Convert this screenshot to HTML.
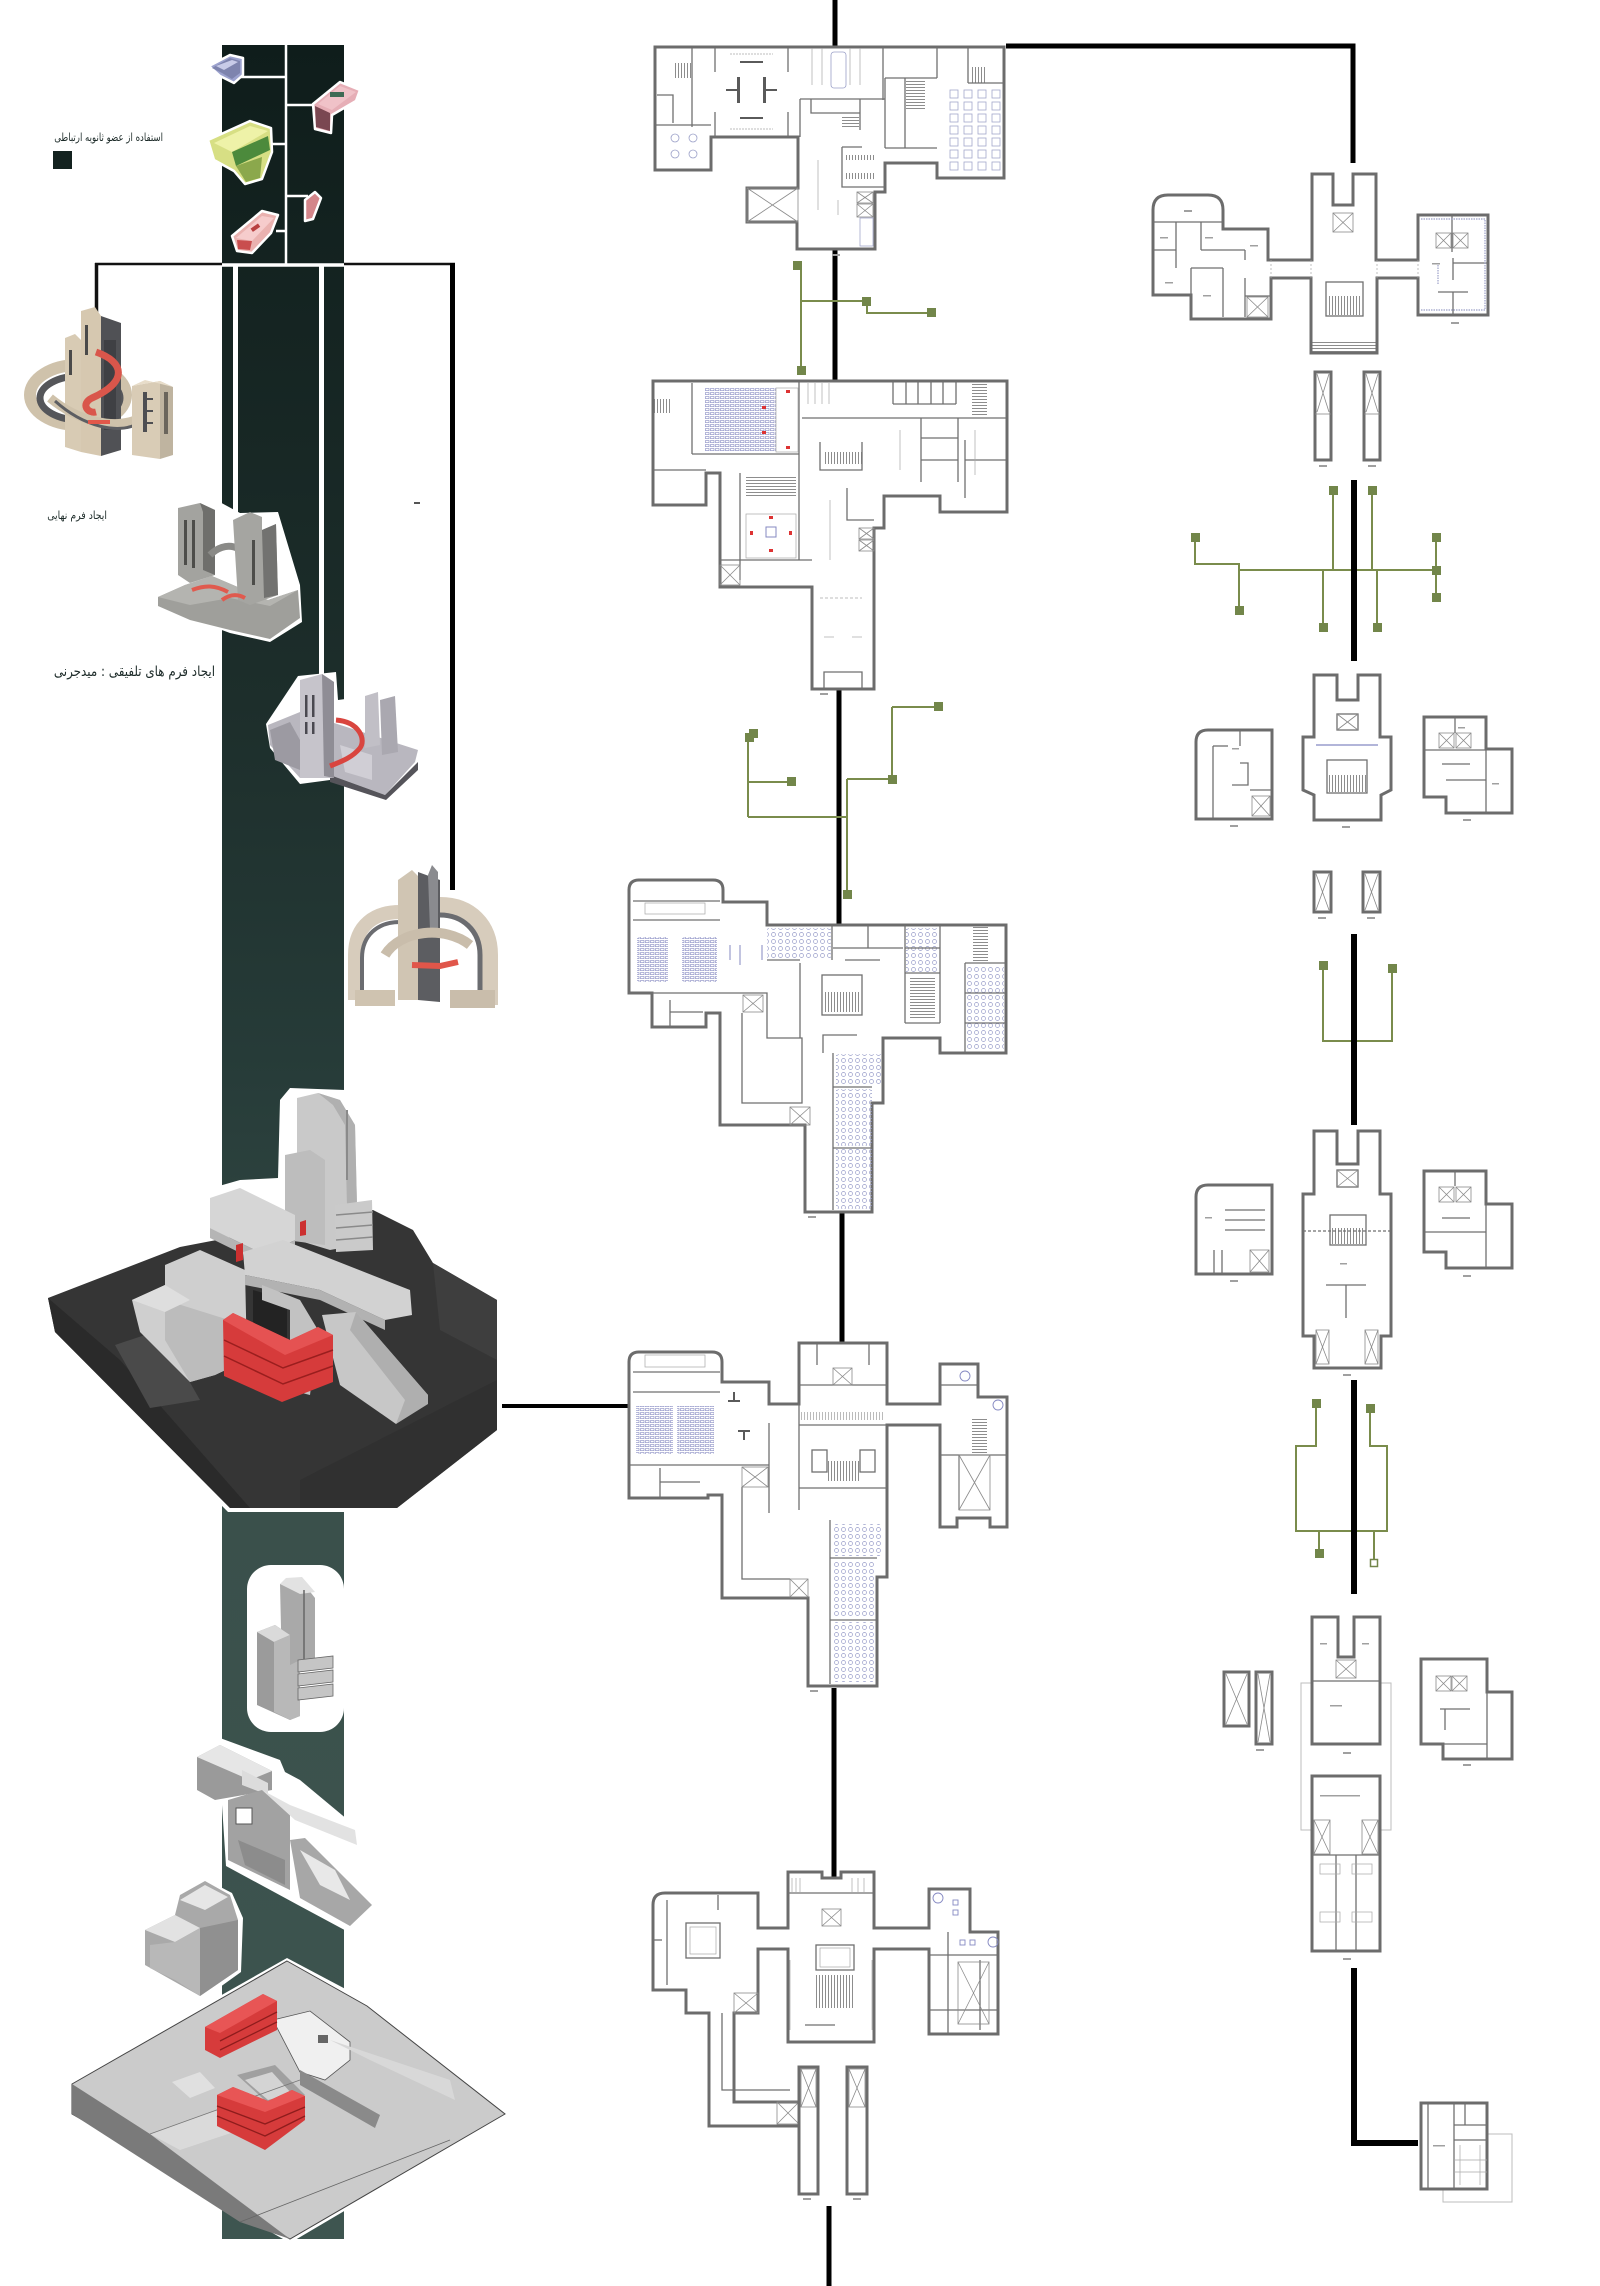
<!DOCTYPE html>
<html><head><meta charset="utf-8">
<style>
html,body{margin:0;padding:0;background:#fff;}
#wrap{position:relative;width:1600px;height:2286px;overflow:hidden;background:#fff;}
svg{position:absolute;left:0;top:0;}
.fa{position:absolute;font-family:"DejaVu Sans","Liberation Sans",sans-serif;color:#1d2b29;white-space:nowrap;direction:rtl;text-align:right;transform-origin:100% 50%;}
</style></head>
<body><div id="wrap">
<svg width="1600" height="2286" viewBox="0 0 1600 2286" xmlns="http://www.w3.org/2000/svg">
<defs>
<linearGradient id="band" gradientUnits="userSpaceOnUse" x1="0" y1="45" x2="0" y2="2239">
<stop offset="0" stop-color="#0f1d1b"/><stop offset="0.3" stop-color="#1d2e2b"/><stop offset="0.46" stop-color="#263b38"/><stop offset="0.67" stop-color="#3a504b"/><stop offset="1" stop-color="#3e5550"/>
</linearGradient>
<pattern id="st" width="3" height="10" patternUnits="userSpaceOnUse"><line x1="0.5" y1="0" x2="0.5" y2="10" stroke="#707070" stroke-width="0.8"/></pattern>
<pattern id="sth" width="10" height="3" patternUnits="userSpaceOnUse"><line x1="0" y1="0.5" x2="10" y2="0.5" stroke="#707070" stroke-width="0.8"/></pattern>
<pattern id="seat" width="5" height="4" patternUnits="userSpaceOnUse"><rect x="0.5" y="0.5" width="3.5" height="2.2" fill="none" stroke="#8589c2" stroke-width="0.6"/></pattern>
<pattern id="ch" width="7" height="7" patternUnits="userSpaceOnUse"><circle cx="3.5" cy="3.5" r="2" fill="none" stroke="#969bc8" stroke-width="0.7"/></pattern>
<style>
.o{fill:#fff;stroke:#6c6c6c;stroke-width:3;stroke-linejoin:miter}
.l{fill:none;stroke:#6f6f6f;stroke-width:1.3}
.t{fill:none;stroke:#a8a8a8;stroke-width:0.7}
.x{fill:none;stroke:#8a8a8a;stroke-width:0.8}
.g{fill:none;stroke:#7a8c4c;stroke-width:2}
.gs{fill:#72864a}
.k{stroke:#000;fill:none}
.wh{fill:#fff}
.lb{fill:#a0a0a0}
</style>
</defs>

<!-- ================= LEFT CONNECTOR LINES ================= -->
<line x1="95" y1="264" x2="455" y2="264" stroke="#111" stroke-width="2.5"/>
<line x1="96.5" y1="263" x2="96.5" y2="312" stroke="#111" stroke-width="3.5"/>
<line x1="452.5" y1="263" x2="452.5" y2="890" stroke="#000" stroke-width="5"/>
<rect x="414" y="502" width="6" height="2" fill="#555"/>

<!-- band -->
<rect x="222" y="45" width="122" height="2194" fill="url(#band)"/>
<g stroke="#fff" stroke-width="2.5">
<line x1="286" y1="45" x2="286" y2="264"/>
<line x1="238" y1="77" x2="286" y2="77"/>
<line x1="286" y1="105" x2="314" y2="105"/>
<line x1="268" y1="144" x2="286" y2="144"/>
<line x1="286" y1="196" x2="308" y2="196"/>
<line x1="276" y1="231" x2="286" y2="231"/>
</g>
<line x1="222" y1="265" x2="344" y2="265" stroke="#fff" stroke-width="3.5"/>
<line x1="235.5" y1="266" x2="235.5" y2="512" stroke="#fff" stroke-width="5"/>
<line x1="321.5" y1="266" x2="321.5" y2="676" stroke="#fff" stroke-width="5"/>

<rect x="53" y="151" width="19" height="18" fill="#13221f"/>

<!-- ================= TOP SMALL OBJECTS ================= -->
<g stroke="#fff" stroke-width="2.5" stroke-linejoin="round">
<polygon points="209,66 230,55 243,58 243,75 234,83 220,76" fill="#9da3cf"/>
<polygon points="313,104 340,82 360,90 356,101 332,115 331,133 315,129" fill="#e6aeb6"/>
<polygon points="208,140 250,121 271,128 272,152 262,179 245,184 234,171 214,160" fill="#d7df84"/>
<polygon points="305,200 315,192 321,198 313,219 305,221" fill="#d4868a"/>
<polygon points="232,236 262,211 278,215 271,233 252,253 237,251" fill="#eab2b0"/>
</g>
<polygon points="212,68 230,58 240,61 240,73 232,79 222,73" fill="#7e84ae"/>
<polygon points="216,66 232,60 238,62 224,70" fill="#c8cbe8"/>
<polygon points="315,106 330,113 330,131 316,127" fill="#7a4751"/>
<polygon points="318,104 340,86 356,92 332,110" fill="#f0c2c8"/>
<rect x="330" y="92" width="14" height="5" fill="#3f6b55"/>
<polygon points="214,143 250,126 268,131 232,152" fill="#eef2a8"/>
<polygon points="232,152 268,136 270,150 236,166" fill="#4c8a3c"/>
<polygon points="236,166 262,157 260,178 246,182" fill="#8ba84c"/>
<polygon points="236,238 262,216 274,218 252,241" fill="#f6cccc"/>
<polygon points="237,240 252,241 250,250 238,249" fill="#c94e4e"/>
<rect x="251" y="226" width="9" height="4" fill="#b84040" transform="rotate(-35 255 228)"/>

<!-- ================= OBJECT A ================= -->
<g>
<ellipse cx="78" cy="395" rx="48" ry="30" fill="none" stroke="#cfc2ab" stroke-width="12"/>
<ellipse cx="80" cy="398" rx="40" ry="22" fill="none" stroke="#55565a" stroke-width="7"/>
<polygon points="65,338 75,334 81,340 81,452 65,447" fill="#d8cbb4"/>
<polygon points="81,311 95,307 101,316 101,456 81,452" fill="#d6c8b0"/>
<polygon points="101,316 121,323 121,450 101,456" fill="#505155"/>
<rect x="85" y="325" width="3" height="30" fill="#4a4a4a"/>
<rect x="69" y="350" width="3" height="25" fill="#4a4a4a"/>
<rect x="104" y="340" width="12" height="90" fill="#3f4044"/>
<path d="M96 352 C125 362 128 382 92 398 C80 404 88 414 96 412" fill="none" stroke="#d9564b" stroke-width="7"/>
<path d="M50 398 C80 423 115 428 135 420" fill="none" stroke="#cfc2ab" stroke-width="9"/>
<path d="M55 401 C85 428 118 433 135 425" fill="none" stroke="#5d5e62" stroke-width="3"/>
<rect x="88" y="420" width="22" height="4" fill="#e2584a"/>
<polygon points="132,386 160,381 160,459 132,455" fill="#d9ccb6"/>
<polygon points="160,381 173,387 173,455 160,459" fill="#bfb4a0"/>
<polygon points="132,386 145,380 173,387 160,381" fill="#e8ddca"/>
<rect x="143" y="392" width="4" height="40" fill="#4e4e52"/>
<rect x="147" y="398" width="6" height="2" fill="#4e4e52"/><rect x="147" y="410" width="6" height="2" fill="#4e4e52"/><rect x="147" y="422" width="6" height="2" fill="#4e4e52"/>
<rect x="164" y="392" width="4" height="42" fill="#6a655c"/>
</g>

<!-- ================= OBJECT B ================= -->
<polygon points="176,504 216,500 240,513 278,512 300,585 302,622 270,642 230,633 156,606 157,590 175,580" fill="#fff"/>
<polygon points="158,597 185,585 212,576 268,600 298,590 300,618 270,639 230,630 190,620 158,606" fill="#9f9f9b"/>
<polygon points="158,597 185,585 212,576 268,600 298,590 270,606 230,598 190,605" fill="#b4b4b0"/>
<polygon points="178,508 200,503 215,510 215,575 190,583 178,575" fill="#a3a39f"/>
<polygon points="200,503 215,510 215,575 203,570 203,512" fill="#6f6f6c"/>
<rect x="184" y="520" width="3" height="45" fill="#4d4d4a"/>
<rect x="192" y="520" width="3" height="48" fill="#4d4d4a"/>
<path d="M210 555 C225 540 245 545 250 565" fill="none" stroke="#8a8a87" stroke-width="7"/>
<polygon points="233,520 250,512 262,517 262,530 276,524 278,595 250,605 238,600" fill="#a5a5a1"/>
<polygon points="262,530 276,524 278,595 264,598" fill="#727270"/>
<rect x="252" y="540" width="3" height="45" fill="#4d4d4a"/>
<path d="M192 590 C205 585 215 585 228 592 M222 600 C230 594 238 594 245 598" fill="none" stroke="#e05a4e" stroke-width="4"/>

<!-- ================= OBJECT C ================= -->
<polygon points="266,724 298,676 336,672 338,700 398,692 420,745 418,764 386,798 330,780 300,784 270,748" fill="#fff"/>
<polygon points="268,725 300,712 418,750 415,762 385,795 330,775 300,778 270,745" fill="#b9b7bf"/>
<polygon points="330,775 385,795 418,762 418,770 386,800 330,782" fill="#55545a"/>
<polygon points="300,680 322,674 334,682 334,778 300,778" fill="#c6c4cb"/>
<polygon points="322,674 334,682 334,778 324,776" fill="#8f8d95"/>
<rect x="305" y="695" width="2.5" height="22" fill="#4a4950"/><rect x="312" y="695" width="2.5" height="22" fill="#4a4950"/><rect x="305" y="722" width="2.5" height="12" fill="#4a4950"/><rect x="312" y="722" width="2.5" height="12" fill="#4a4950"/>
<polygon points="365,696 378,692 380,745 365,748" fill="#c1bfc6"/><polygon points="380,700 395,696 398,752 382,755" fill="#aaa8b0"/>
<polygon points="270,730 290,722 300,740 300,770 275,760" fill="#9c9aa2"/>
<polygon points="340,745 372,755 372,780 345,772" fill="#d0ced5"/>
<path d="M336 720 C360 722 366 740 360 748 C352 758 340 762 330 766" fill="none" stroke="#d9453f" stroke-width="5"/>

<!-- ================= OBJECT D ================= -->
<path d="M355 1000 L355 955 C355 925 375 912 400 912" fill="none" stroke="#d7ccbc" stroke-width="14"/>
<path d="M440 905 C470 905 490 925 490 955 L490 1005" fill="none" stroke="#d7ccbc" stroke-width="16"/>
<path d="M362 1000 L362 958 C362 935 378 922 400 922" fill="none" stroke="#6b6c70" stroke-width="4"/>
<path d="M440 915 C462 915 480 930 480 955 L480 1005" fill="none" stroke="#6b6c70" stroke-width="5"/>
<polygon points="398,880 412,870 418,876 418,1000 398,1000" fill="#d0c5b3"/>
<polygon points="418,872 440,880 440,1002 418,1000" fill="#5c5d61"/>
<polygon points="428,875 432,865 438,872 438,930 430,930" fill="#8a8b8f"/>
<path d="M385 955 C400 930 445 925 470 945" fill="none" stroke="#c9bdab" stroke-width="10"/>
<path d="M412 965 L440 966 L458 962" fill="none" stroke="#e0564a" stroke-width="6"/>
<rect x="355" y="990" width="40" height="16" fill="#cfc3b0"/>
<rect x="450" y="990" width="45" height="18" fill="#c9bdab"/>

<!-- ================= BIG RENDER ================= -->
<polygon points="290,1088 345,1090 362,1118 364,1205 373,1208 413,1228 435,1261 500,1298 500,1433 399,1512 228,1512 52,1334 45,1296 178,1244 198,1222 205,1190 240,1180 278,1178 280,1100" fill="#fff"/>
<polygon points="48,1298 180,1247 373,1210 413,1230 433,1263 497,1300 497,1430 397,1508 230,1508 55,1332" fill="#353535"/>
<polygon points="48,1298 55,1332 230,1508 250,1508 120,1360" fill="#2a2a2a"/>
<polygon points="115,1345 160,1330 200,1400 150,1408" fill="#4a4a4a"/>
<polygon points="300,1480 497,1380 497,1430 397,1508 300,1508" fill="#303030"/>
<polygon points="433,1263 497,1300 497,1360 440,1330" fill="#3e3e3e"/>
<polygon points="297,1098 318,1093 340,1100 355,1125 358,1245 330,1250 297,1240" fill="#c9c9c9"/>
<polygon points="318,1093 340,1100 355,1125 358,1245 348,1248 345,1125 333,1105" fill="#b0b0b0"/>
<line x1="347" y1="1110" x2="347" y2="1180" stroke="#8a8a8a" stroke-width="2"/>
<polygon points="285,1155 310,1150 325,1160 325,1245 285,1240" fill="#bdbdbd"/>
<polygon points="335,1205 372,1200 373,1250 336,1252" fill="#cacaca"/>
<line x1="336" y1="1215" x2="373" y2="1212" stroke="#8a8a8a" stroke-width="1.5"/><line x1="336" y1="1228" x2="373" y2="1225" stroke="#8a8a8a" stroke-width="1.5"/><line x1="336" y1="1240" x2="373" y2="1237" stroke="#8a8a8a" stroke-width="1.5"/>
<polygon points="210,1198 240,1188 295,1215 295,1240 265,1255 210,1228" fill="#d6d6d6"/>
<polygon points="210,1228 265,1255 295,1240 295,1250 265,1265 210,1238" fill="#b5b5b5"/>
<polygon points="132,1300 165,1285 165,1265 200,1250 245,1270 247,1360 215,1375 190,1382 140,1332" fill="#cfcfcf"/>
<polygon points="165,1300 245,1325 245,1360 215,1375 190,1382 165,1340" fill="#bcbcbc"/>
<polygon points="132,1300 165,1285 190,1300 165,1312" fill="#dedede"/>
<polygon points="243,1252 283,1240 410,1290 412,1315 385,1320 320,1290 245,1275" fill="#d2d2d2"/>
<polygon points="245,1275 320,1290 385,1320 385,1330 320,1300 245,1285" fill="#b2b2b2"/>
<polygon points="253,1290 287,1300 287,1350 253,1335" fill="#232323"/>
<polygon points="262,1285 300,1300 318,1330 310,1395 290,1390 290,1310 262,1300" fill="#c2c2c2"/>
<polygon points="322,1315 356,1312 428,1395 396,1424 340,1385" fill="#c7c7c7"/>
<polygon points="356,1312 428,1395 428,1404 396,1424 405,1400 350,1330" fill="#afafaf"/>
<polygon points="223,1320 233,1313 290,1340 318,1327 333,1335 333,1382 282,1402 224,1376" fill="#d63b3b"/>
<polygon points="223,1320 233,1313 290,1340 318,1327 333,1335 285,1355" fill="#e55252"/>
<g stroke="#9a1e1e" stroke-width="1.5" fill="none"><polyline points="224,1340 283,1368 333,1350"/><polyline points="224,1356 283,1384 333,1366"/></g>
<polygon points="300,1222 306,1220 306,1235 300,1236" fill="#cc3030"/>
<polygon points="236,1245 243,1243 243,1260 236,1262" fill="#cc3030"/>

<line x1="502" y1="1406" x2="630" y2="1406" stroke="#000" stroke-width="4"/>

<!-- ================= OBJECT E ================= -->
<rect x="247" y="1565" width="97" height="167" rx="24" fill="#fff"/>
<polygon points="280,1584 300,1579 315,1598 315,1670 282,1672" fill="#a9a9a9"/>
<polygon points="280,1584 286,1578 302,1577 315,1592 300,1594" fill="#e2e2e2"/>
<line x1="304" y1="1590" x2="304" y2="1660" stroke="#666" stroke-width="1.5"/>
<polygon points="257,1632 275,1625 290,1635 290,1700 300,1716 290,1720 257,1705" fill="#9b9b9b"/>
<polygon points="257,1632 275,1625 290,1635 274,1642" fill="#dadada"/>
<polygon points="274,1642 290,1635 290,1665 300,1660 300,1716 290,1720 274,1712" fill="#b8b8b8"/>
<g fill="#c5c5c5" stroke="#666" stroke-width="0.8"><polygon points="298,1660 333,1656 333,1668 298,1672"/><polygon points="298,1674 333,1670 333,1682 298,1686"/><polygon points="298,1688 333,1684 333,1696 298,1700"/></g>

<!-- ================= OBJECT F ================= -->
<polygon points="192,1755 220,1738 280,1760 285,1772 300,1780 360,1830 365,1850 378,1905 352,1934 298,1905 226,1866 222,1805 194,1795" fill="#fff"/>
<polygon points="197,1757 220,1745 272,1771 272,1790 215,1800 197,1790" fill="#9a9a9a"/>
<polygon points="197,1757 220,1745 272,1771 250,1780" fill="#e6e6e6"/>
<polygon points="242,1770 268,1783 268,1795 242,1785" fill="#dcdcdc"/>
<polygon points="228,1800 262,1790 290,1810 290,1890 228,1860" fill="#a2a2a2"/>
<polygon points="262,1790 290,1805 355,1830 357,1845 295,1820" fill="#e2e2e2"/>
<rect x="236" y="1808" width="16" height="16" fill="#fff" stroke="#555" stroke-width="1"/>
<polygon points="290,1840 305,1838 372,1905 350,1926 300,1898" fill="#a7a7a7"/>
<polygon points="300,1850 335,1870 350,1900 320,1885" fill="#e8e8e8"/>
<polygon points="238,1840 285,1860 285,1885 245,1865" fill="#8c8c8c"/>

<!-- ================= OBJECT G ================= -->
<polygon points="142,1930 172,1913 177,1892 203,1878 232,1893 243,1918 241,1972 202,2000 142,1968" fill="#fff"/>
<polygon points="145,1930 175,1915 180,1895 205,1881 230,1895 238,1920 238,1970 200,1996 145,1965" fill="#a9a9a9"/>
<polygon points="145,1930 175,1915 200,1928 175,1942" fill="#e2e2e2"/>
<polygon points="180,1900 205,1885 228,1897 205,1910" fill="#e6e6e6"/>
<polygon points="200,1928 238,1920 238,1970 200,1996" fill="#909090"/>
<polygon points="175,1942 200,1928 200,1996 175,1980 150,1968 150,1945" fill="#b8b8b8"/>

<!-- ================= SITE PLANE ================= -->
<polygon points="287,1958 370,2002 509,2114 290,2243 68,2116 68,2082" fill="#fff"/>
<polygon points="287,1961 367,2006 505,2114 290,2239 72,2114 72,2084" fill="#cbcbcb" stroke="#444" stroke-width="1"/>
<polygon points="72,2084 72,2114 240,2222 290,2239 150,2134" fill="#7a7a7a"/>
<polygon points="150,2134 215,2110 240,2130 180,2150" fill="#dadada"/>
<polygon points="172,2082 200,2072 215,2088 190,2098" fill="#e0e0e0"/>
<polygon points="237,2075 275,2065 305,2095 270,2105" fill="#a0a0a0"/>
<polygon points="245,2080 272,2072 292,2094 268,2100" fill="#d4d4d4"/>
<polygon points="273,2020 310,2011 350,2042 350,2060 325,2080 300,2072" fill="#f0f0f0" stroke="#555" stroke-width="0.8"/>
<rect x="318" y="2035" width="10" height="8" fill="#666"/>
<polygon points="300,2070 380,2115 375,2128 300,2085" fill="#8a8a8a"/>
<polygon points="330,2040 450,2080 455,2100 370,2060" fill="#d8d8d8"/>
<line x1="240" y1="2222" x2="450" y2="2140" stroke="#666" stroke-width="0.8"/>
<line x1="150" y1="2134" x2="300" y2="2080" stroke="#777" stroke-width="0.8"/>
<polygon points="205,2027 263,1994 277,2001 277,2030 220,2058 205,2050" fill="#d63b3b"/>
<polygon points="205,2027 263,1994 277,2001 220,2033" fill="#e85555"/>
<g stroke="#8e1c1c" stroke-width="1.3"><line x1="220" y1="2041" x2="277" y2="2012"/><line x1="220" y1="2050" x2="277" y2="2022"/></g>
<polygon points="217,2095 233,2087 268,2101 292,2090 305,2096 305,2120 265,2150 217,2126" fill="#d63b3b"/>
<polygon points="217,2095 233,2087 268,2101 292,2090 305,2096 265,2112" fill="#e85555"/>
<g stroke="#8e1c1c" stroke-width="1.3" fill="none"><polyline points="217,2106 265,2124 305,2107"/><polyline points="217,2116 265,2136 305,2116"/></g>

<!-- ================= CENTER BLACK LINES ================= -->
<g class="k" stroke-width="5">
<line x1="835" y1="0" x2="835" y2="48"/>
<line x1="835" y1="218" x2="835" y2="382"/>
<line x1="839" y1="690" x2="839" y2="924"/>
<line x1="842" y1="1212" x2="842" y2="1346"/>
<line x1="834" y1="1688" x2="834" y2="1880"/>
<line x1="829" y1="2206" x2="829" y2="2286"/>
</g>
<polyline points="1006,46 1353,46 1353,163" class="k" stroke-width="5"/>

<!-- ================= GREEN CONNECTORS ================= -->
<g class="g">
<line x1="801" y1="265" x2="801" y2="370"/>
<line x1="801" y1="301" x2="866" y2="301"/>
<polyline points="867,301 867,313 931,313"/>
<line x1="748" y1="734" x2="748" y2="817"/>
<line x1="748" y1="817" x2="847" y2="817"/>
<line x1="748" y1="782" x2="791" y2="782"/>
<line x1="847" y1="779" x2="847" y2="894"/>
<line x1="847" y1="779" x2="892" y2="779"/>
<line x1="892" y1="707" x2="892" y2="779"/>
<line x1="892" y1="707" x2="938" y2="707"/>
<line x1="1239" y1="570" x2="1436" y2="570"/>
<polyline points="1195,537 1195,564 1239,564 1239,610"/>
<line x1="1333" y1="490" x2="1333" y2="570"/>
<line x1="1372" y1="490" x2="1372" y2="570"/>
<line x1="1323" y1="570" x2="1323" y2="627"/>
<line x1="1377" y1="570" x2="1377" y2="627"/>
<line x1="1436" y1="537" x2="1436" y2="597"/>
<polyline points="1323,965 1323,1041 1392,1041 1392,968"/>
<polyline points="1316,1403 1316,1446 1296,1446 1296,1531 1387,1531 1387,1446 1370,1446 1370,1408"/>
<line x1="1319" y1="1531" x2="1319" y2="1553"/>
<line x1="1374" y1="1531" x2="1374" y2="1563"/>
</g>
<g class="gs">
<rect x="793" y="261" width="9" height="9"/><rect x="797" y="366" width="9" height="9"/><rect x="862" y="297" width="9" height="9"/><rect x="927" y="308" width="9" height="9"/>
<rect x="745" y="733" width="9" height="9"/><rect x="749" y="729" width="9" height="9"/><rect x="787" y="777" width="9" height="9"/><rect x="934" y="702" width="9" height="9"/><rect x="888" y="775" width="9" height="9"/><rect x="843" y="890" width="9" height="9"/>
<rect x="1329" y="486" width="9" height="9"/><rect x="1368" y="486" width="9" height="9"/><rect x="1191" y="533" width="9" height="9"/><rect x="1235" y="606" width="9" height="9"/><rect x="1319" y="623" width="9" height="9"/><rect x="1373" y="623" width="9" height="9"/><rect x="1432" y="533" width="9" height="9"/><rect x="1432" y="566" width="9" height="9"/><rect x="1432" y="593" width="9" height="9"/>
<rect x="1319" y="961" width="9" height="9"/><rect x="1388" y="964" width="9" height="9"/>
<rect x="1312" y="1399" width="9" height="9"/><rect x="1366" y="1404" width="9" height="9"/><rect x="1315" y="1549" width="9" height="9"/>
</g>
<rect x="1370.5" y="1559.5" width="7" height="7" fill="#fff" stroke="#72864a" stroke-width="1.5"/>

<g class="k" stroke-width="6">
<line x1="1354" y1="480" x2="1354" y2="661"/>
<line x1="1354" y1="934" x2="1354" y2="1125"/>
<line x1="1354" y1="1380" x2="1354" y2="1594"/>
<polyline points="1354,1968 1354,2143 1418,2143"/>
</g>

<!-- ================= PLAN 1 ================= -->
<polygon class="o" points="655,47 1004,47 1004,178 937,178 937,163 885,163 885,192 875,192 875,249 797,249 797,222 747,222 747,188 798,188 798,137 711,137 711,170 655,170"/>
<g class="l">
<line x1="692" y1="48" x2="692" y2="127"/><line x1="655" y1="125" x2="711" y2="125"/>
<polyline points="657,95 673,95 673,123"/>
<line x1="715" y1="48" x2="715" y2="72"/><line x1="715" y1="112" x2="715" y2="137"/>
<line x1="788" y1="48" x2="788" y2="72"/><line x1="788" y1="112" x2="788" y2="137"/>
<line x1="883" y1="47" x2="883" y2="100"/><line x1="800" y1="99" x2="885" y2="99"/>
<line x1="800" y1="99" x2="800" y2="137"/>
<polyline points="811,99 811,113 860,113"/><line x1="860" y1="99" x2="860" y2="130"/>
<polyline points="842,147 842,187 885,187"/><line x1="842" y1="147" x2="862" y2="147"/>
<line x1="885" y1="78" x2="937" y2="78"/><line x1="937" y1="47" x2="937" y2="78"/>
<line x1="885" y1="78" x2="885" y2="148"/><line x1="885" y1="148" x2="937" y2="148"/>
<line x1="968" y1="47" x2="968" y2="83"/><line x1="968" y1="83" x2="1004" y2="83"/>
<line x1="905" y1="78" x2="905" y2="148"/>
</g>
<g class="t"><line x1="812" y1="48" x2="812" y2="85"/><line x1="822" y1="48" x2="822" y2="85"/><line x1="850" y1="48" x2="850" y2="85"/><line x1="860" y1="48" x2="860" y2="85"/>
<line x1="730" y1="54" x2="773" y2="54" stroke-dasharray="2 1"/><line x1="730" y1="129" x2="773" y2="129" stroke-dasharray="2 1"/>
<line x1="818" y1="160" x2="818" y2="210"/><line x1="838" y1="200" x2="838" y2="215"/></g>
<g fill="none" stroke="#9ba0c8" stroke-width="0.8">
<circle cx="675" cy="138" r="4"/><circle cx="693" cy="138" r="4"/><circle cx="675" cy="154" r="4"/><circle cx="693" cy="154" r="4"/>
<rect x="831" y="52" width="15" height="36" rx="3"/>
</g>
<g fill="#5a5a5a"><rect x="737" y="77" width="3" height="26"/><rect x="763" y="77" width="3" height="26"/><rect x="726" y="89" width="11" height="2"/><rect x="766" y="89" width="11" height="2"/><rect x="740" y="61" width="23" height="2"/><rect x="740" y="117" width="23" height="2"/></g>
<g fill="none" stroke="#a3a7cc" stroke-width="0.8">
<rect x="950" y="90" width="8" height="8"/><rect x="964" y="90" width="8" height="8"/><rect x="978" y="90" width="8" height="8"/><rect x="992" y="90" width="8" height="8"/>
<rect x="950" y="102" width="8" height="8"/><rect x="964" y="102" width="8" height="8"/><rect x="978" y="102" width="8" height="8"/><rect x="992" y="102" width="8" height="8"/>
<rect x="950" y="114" width="8" height="8"/><rect x="964" y="114" width="8" height="8"/><rect x="978" y="114" width="8" height="8"/><rect x="992" y="114" width="8" height="8"/>
<rect x="950" y="126" width="8" height="8"/><rect x="964" y="126" width="8" height="8"/><rect x="978" y="126" width="8" height="8"/><rect x="992" y="126" width="8" height="8"/>
<rect x="950" y="138" width="8" height="8"/><rect x="964" y="138" width="8" height="8"/><rect x="978" y="138" width="8" height="8"/><rect x="992" y="138" width="8" height="8"/>
<rect x="950" y="150" width="8" height="8"/><rect x="964" y="150" width="8" height="8"/><rect x="978" y="150" width="8" height="8"/><rect x="992" y="150" width="8" height="8"/>
<rect x="950" y="162" width="8" height="8"/><rect x="964" y="162" width="8" height="8"/><rect x="978" y="162" width="8" height="8"/><rect x="992" y="162" width="8" height="8"/>
<rect x="860" y="218" width="13" height="28"/>
</g>
<rect x="673" y="63" width="18" height="15" fill="url(#st)"/><rect x="970" y="67" width="15" height="16" fill="url(#st)"/><rect x="842" y="115" width="17" height="14" fill="url(#sth)"/><rect x="906" y="80" width="19" height="30" fill="url(#sth)"/><rect x="846" y="155" width="30" height="5" fill="url(#st)"/><rect x="846" y="173" width="30" height="6" fill="url(#st)"/>
<g class="x"><rect x="747" y="188" width="51" height="34"/><line x1="747" y1="188" x2="798" y2="222"/><line x1="798" y1="188" x2="747" y2="222"/>
<rect x="857" y="192" width="16" height="11"/><line x1="857" y1="192" x2="873" y2="203"/><line x1="873" y1="192" x2="857" y2="203"/>
<rect x="857" y="204" width="16" height="13"/><line x1="857" y1="204" x2="873" y2="217"/><line x1="873" y1="204" x2="857" y2="217"/></g>
<rect x="832" y="254" width="8" height="2" class="lb"/>

<!-- ================= PLAN 2 ================= -->
<polygon class="o" points="653,381 1007,381 1007,512 940,512 940,496 884,496 884,528 874,528 874,689 812,689 812,587 720,587 720,473 706,473 706,505 653,505"/>
<rect x="705" y="388" width="71" height="64" fill="url(#seat)"/>
<rect x="654" y="399" width="16" height="14" fill="url(#st)"/>
<g class="l">
<line x1="692" y1="383" x2="692" y2="454"/><line x1="692" y1="454" x2="799" y2="454"/>
<line x1="799" y1="381" x2="799" y2="560"/>
<rect x="776" y="388" width="22" height="64" class="t"/>
<line x1="653" y1="470" x2="706" y2="470"/>
<line x1="802" y1="418" x2="1006" y2="418"/>
<line x1="921" y1="418" x2="921" y2="482"/><line x1="958" y1="418" x2="958" y2="482"/>
<line x1="921" y1="438" x2="958" y2="438"/><line x1="921" y1="460" x2="958" y2="460"/>
<line x1="893" y1="381" x2="893" y2="404"/><line x1="906" y1="381" x2="906" y2="404"/><line x1="918" y1="381" x2="918" y2="404"/><line x1="931" y1="381" x2="931" y2="404"/><line x1="943" y1="381" x2="943" y2="404"/><line x1="956" y1="381" x2="956" y2="404"/>
<line x1="893" y1="404" x2="956" y2="404"/>
<polyline points="820,442 820,470 862,470 862,442"/>
<polyline points="847,488 847,520 874,520"/>
<line x1="965" y1="460" x2="1006" y2="460"/><line x1="965" y1="440" x2="965" y2="498"/>
<line x1="720" y1="560" x2="812" y2="560"/>
<line x1="740" y1="473" x2="740" y2="580"/>
</g>
<g class="t"><line x1="808" y1="383" x2="808" y2="404"/><line x1="815" y1="383" x2="815" y2="404"/><line x1="822" y1="383" x2="822" y2="404"/><line x1="829" y1="383" x2="829" y2="404"/>
<line x1="820" y1="598" x2="862" y2="598" stroke-dasharray="3 2"/><line x1="824" y1="637" x2="834" y2="637"/><line x1="852" y1="637" x2="862" y2="637"/>
<rect x="746" y="514" width="50" height="44"/><line x1="830" y1="500" x2="830" y2="560"/><line x1="900" y1="430" x2="900" y2="470"/><line x1="975" y1="430" x2="975" y2="475"/></g>
<rect x="746" y="475" width="50" height="21" fill="url(#sth)"/>
<rect x="972" y="383" width="15" height="32" fill="url(#sth)"/>
<rect x="824" y="452" width="38" height="12" fill="url(#st)"/>
<g fill="#d33"><rect x="762" y="406" width="4" height="3"/><rect x="762" y="431" width="4" height="3"/><rect x="786" y="390" width="4" height="3"/><rect x="786" y="446" width="4" height="3"/>
<rect x="769" y="516" width="4" height="3"/><rect x="750" y="531" width="3" height="4"/><rect x="789" y="531" width="3" height="4"/><rect x="769" y="549" width="4" height="3"/></g>
<rect x="766" y="527" width="10" height="10" fill="none" stroke="#8589c2" stroke-width="1"/>
<g class="x"><rect x="859" y="528" width="15" height="11"/><line x1="859" y1="528" x2="874" y2="539"/><line x1="874" y1="528" x2="859" y2="539"/>
<rect x="859" y="540" width="15" height="11"/><line x1="859" y1="540" x2="874" y2="551"/><line x1="874" y1="540" x2="859" y2="551"/>
<rect x="720" y="565" width="20" height="20"/><line x1="720" y1="565" x2="740" y2="585"/><line x1="740" y1="565" x2="720" y2="585"/></g>
<polyline points="824,689 824,672 862,672 862,689" class="l"/>
<rect x="820" y="693" width="8" height="2" class="lb"/>

<!-- ================= PLAN 3 ================= -->
<path class="o" d="M629,890 Q629,880 639,880 L713,880 Q723,880 723,890 L723,902 L767,902 L767,925 L1006,925 L1006,1053 L940,1053 L940,1038 L883,1038 L883,1103 L872,1103 L872,1212 L805,1212 L805,1125 L720,1125 L720,1013 L706,1013 L706,1027 L652,1027 L652,993 L629,993 Z"/>
<rect x="637" y="937" width="31" height="45" fill="url(#seat)"/><rect x="682" y="937" width="35" height="45" fill="url(#seat)"/>
<rect x="767" y="928" width="64" height="30" fill="url(#ch)"/>
<rect x="966" y="965" width="38" height="86" fill="url(#ch)"/>
<rect x="836" y="1054" width="46" height="32" fill="url(#ch)"/>
<rect x="836" y="1089" width="36" height="57" fill="url(#ch)"/>
<rect x="836" y="1149" width="36" height="60" fill="url(#ch)"/>
<rect x="906" y="928" width="33" height="44" fill="url(#ch)"/>
<g class="l">
<line x1="633" y1="901" x2="720" y2="901"/><line x1="633" y1="920" x2="720" y2="920"/>
<line x1="629" y1="993" x2="723" y2="993"/>
<line x1="670" y1="1000" x2="670" y2="1027"/><line x1="670" y1="1012" x2="703" y2="1012"/>
<polyline points="742,1013 742,1103 802,1103 802,1038 767,1038 767,993 723,993"/>
<line x1="832" y1="925" x2="832" y2="960"/><line x1="767" y1="960" x2="800" y2="960"/>
<line x1="833" y1="948" x2="903" y2="948"/><line x1="868" y1="925" x2="868" y2="948"/>
<line x1="905" y1="925" x2="905" y2="1023"/><line x1="940" y1="925" x2="940" y2="1023"/><line x1="905" y1="948" x2="940" y2="948"/><line x1="905" y1="973" x2="940" y2="973"/><line x1="905" y1="1023" x2="940" y2="1023"/>
<line x1="965" y1="963" x2="965" y2="1053"/><line x1="965" y1="963" x2="1006" y2="963"/><line x1="965" y1="993" x2="1006" y2="993"/><line x1="965" y1="1023" x2="1006" y2="1023"/>
<line x1="800" y1="963" x2="800" y2="1038"/>
<polyline points="823,1053 823,1035 857,1035"/>
<line x1="833" y1="1053" x2="833" y2="1210"/><line x1="833" y1="1087" x2="872" y2="1087"/><line x1="833" y1="1148" x2="872" y2="1148"/>
<rect x="822" y="975" width="40" height="40"/>
<line x1="845" y1="960" x2="880" y2="960"/>
</g>
<rect x="825" y="992" width="35" height="20" fill="url(#st)"/>
<rect x="910" y="977" width="25" height="43" fill="url(#sth)"/>
<rect x="973" y="927" width="15" height="35" fill="url(#sth)"/>
<g class="x"><rect x="790" y="1107" width="20" height="18"/><line x1="790" y1="1107" x2="810" y2="1125"/><line x1="810" y1="1107" x2="790" y2="1125"/>
<rect x="743" y="995" width="20" height="17"/><line x1="743" y1="995" x2="763" y2="1012"/><line x1="763" y1="995" x2="743" y2="1012"/></g>
<rect x="645" y="903" width="60" height="11" class="t"/>
<g fill="none" stroke="#8589c2" stroke-width="1"><line x1="740" y1="945" x2="740" y2="965"/><line x1="730" y1="945" x2="730" y2="960"/><line x1="762" y1="945" x2="762" y2="960"/></g>
<rect x="808" y="1216" width="8" height="2" class="lb"/>

<!-- ================= PLAN 4 ================= -->
<path class="o" d="M629,1362 Q629,1352 639,1352 L712,1352 Q722,1352 722,1362 L722,1382 L769,1382 L769,1404 L799,1404 L799,1343 L887,1343 L887,1404 L940,1404 L940,1364 L978,1364 L978,1397 L1007,1397 L1007,1527 L990,1527 L990,1518 L957,1518 L957,1527 L940,1527 L940,1425 L887,1425 L887,1577 L877,1577 L877,1686 L808,1686 L808,1598 L722,1598 L722,1495 L708,1495 L708,1498 L629,1498 Z"/>
<rect x="636" y="1406" width="37" height="48" fill="url(#seat)"/><rect x="677" y="1406" width="37" height="48" fill="url(#seat)"/>
<rect x="832" y="1524" width="50" height="32" fill="url(#ch)"/>
<rect x="832" y="1560" width="42" height="58" fill="url(#ch)"/>
<rect x="832" y="1622" width="42" height="60" fill="url(#ch)"/>
<g class="l">
<line x1="633" y1="1372" x2="720" y2="1372"/><line x1="633" y1="1392" x2="720" y2="1392"/>
<line x1="629" y1="1465" x2="722" y2="1465"/>
<line x1="660" y1="1468" x2="660" y2="1498"/><line x1="660" y1="1482" x2="700" y2="1482"/>
<polyline points="742,1487 742,1579 790,1579"/>
<line x1="769" y1="1423" x2="769" y2="1513"/><line x1="722" y1="1465" x2="769" y2="1465"/>
<line x1="799" y1="1404" x2="799" y2="1510"/>
<line x1="799" y1="1425" x2="887" y2="1425"/>
<line x1="799" y1="1488" x2="887" y2="1488"/>
<line x1="830" y1="1520" x2="830" y2="1684"/><line x1="830" y1="1558" x2="877" y2="1558"/><line x1="830" y1="1620" x2="877" y2="1620"/>
<line x1="940" y1="1455" x2="1007" y2="1455"/><line x1="959" y1="1455" x2="959" y2="1510"/>
<line x1="817" y1="1343" x2="817" y2="1365"/><line x1="869" y1="1343" x2="869" y2="1365"/>
<line x1="799" y1="1385" x2="887" y2="1385"/>
<rect x="812" y="1450" width="15" height="22"/><rect x="860" y="1450" width="15" height="22"/>
<line x1="940" y1="1385" x2="978" y2="1385"/>
</g>
<rect x="827" y="1461" width="32" height="20" fill="url(#st)"/>
<rect x="972" y="1418" width="15" height="37" fill="url(#sth)"/>
<rect x="801" y="1412" width="84" height="8" fill="url(#st)" opacity="0.6"/>
<g class="x"><rect x="742" y="1467" width="26" height="20"/><line x1="742" y1="1467" x2="768" y2="1487"/><line x1="768" y1="1467" x2="742" y2="1487"/>
<rect x="790" y="1579" width="18" height="18"/><line x1="790" y1="1579" x2="808" y2="1597"/><line x1="808" y1="1579" x2="790" y2="1597"/>
<rect x="959" y="1455" width="31" height="55"/><line x1="959" y1="1455" x2="990" y2="1510"/><line x1="990" y1="1455" x2="959" y2="1510"/>
<rect x="833" y="1368" width="19" height="17"/><line x1="833" y1="1368" x2="852" y2="1385"/><line x1="852" y1="1368" x2="833" y2="1385"/></g>
<rect x="645" y="1355" width="60" height="12" class="t"/>
<circle cx="965" cy="1376" r="5" fill="none" stroke="#8589c2" stroke-width="0.9"/>
<circle cx="998" cy="1405" r="5" fill="none" stroke="#8589c2" stroke-width="0.9"/>
<g fill="#5a5a5a"><rect x="728" y="1400" width="12" height="2"/><rect x="733" y="1392" width="2" height="10"/><rect x="738" y="1430" width="12" height="2"/><rect x="743" y="1430" width="2" height="10"/></g>
<rect x="810" y="1690" width="8" height="2" class="lb"/>

<!-- ================= PLAN 5 ================= -->
<path class="o" d="M788,1872 L822,1872 L822,1878 L841,1878 L841,1872 L874,1872 L874,1928 L929,1928 L929,1889 L970,1889 L970,1932 L998,1932 L998,2034 L929,2034 L929,1949 L874,1949 L874,2042 L788,2042 L788,1949 L758,1949 L758,2013 L734,2013 L734,2102 L799,2102 L799,2126 L709,2126 L709,2013 L686,2013 L686,1990 L653,1990 L653,1905 Q653,1893 665,1893 L758,1893 L758,1928 L788,1928 Z"/>
<g class="l">
<rect x="686" y="1923" width="34" height="35"/>
<line x1="667" y1="1900" x2="667" y2="1985"/>
<line x1="718" y1="1895" x2="718" y2="1910"/>
<line x1="653" y1="1940" x2="662" y2="1940"/>
<line x1="788" y1="1893" x2="874" y2="1893"/>
<line x1="929" y1="1955" x2="998" y2="1955"/>
<line x1="948" y1="1932" x2="948" y2="2034"/>
<line x1="980" y1="1960" x2="980" y2="2030"/>
<line x1="929" y1="2010" x2="998" y2="2010"/>
<polyline points="722,2013 722,2090 790,2090"/>
<line x1="805" y1="2025" x2="835" y2="2025"/>
</g>
<rect x="690" y="1927" width="26" height="27" class="t"/>
<rect x="816" y="1945" width="38" height="25" class="l"/><rect x="820" y="1948" width="30" height="19" class="t"/>
<rect x="815" y="1975" width="39" height="33" fill="url(#st)"/>
<g class="t"><line x1="792" y1="1878" x2="792" y2="1892"/><line x1="796" y1="1878" x2="796" y2="1892"/><line x1="800" y1="1878" x2="800" y2="1892"/><line x1="852" y1="1878" x2="852" y2="1892"/><line x1="858" y1="1878" x2="858" y2="1892"/><line x1="864" y1="1878" x2="864" y2="1892"/>
<line x1="790" y1="1960" x2="790" y2="2030"/><line x1="872" y1="1960" x2="872" y2="2030"/></g>
<g class="x"><rect x="822" y="1909" width="19" height="17"/><line x1="822" y1="1909" x2="841" y2="1926"/><line x1="841" y1="1909" x2="822" y2="1926"/>
<rect x="958" y="1962" width="31" height="62"/><line x1="958" y1="1962" x2="989" y2="2024"/><line x1="989" y1="1962" x2="958" y2="2024"/>
<rect x="734" y="1993" width="24" height="20"/><line x1="734" y1="1993" x2="758" y2="2013"/><line x1="758" y1="1993" x2="734" y2="2013"/>
<rect x="777" y="2102" width="22" height="22"/><line x1="777" y1="2102" x2="799" y2="2124"/><line x1="799" y1="2102" x2="777" y2="2124"/></g>
<g fill="none" stroke="#8589c2" stroke-width="0.9"><circle cx="938" cy="1898" r="5"/><rect x="953" y="1900" width="5" height="5"/><rect x="953" y="1910" width="5" height="5"/><rect x="960" y="1940" width="5" height="5"/><rect x="970" y="1940" width="5" height="5"/><circle cx="993" cy="1942" r="5"/></g>
<rect class="o" x="799" y="2067" width="19" height="127"/>
<rect class="o" x="847" y="2067" width="20" height="127"/>
<g class="x"><rect x="801" y="2069" width="15" height="38"/><line x1="801" y1="2069" x2="816" y2="2107"/><line x1="816" y1="2069" x2="801" y2="2107"/>
<rect x="849" y="2069" width="16" height="38"/><line x1="849" y1="2069" x2="865" y2="2107"/><line x1="865" y1="2069" x2="849" y2="2107"/></g>
<rect x="803" y="2198" width="8" height="2" class="lb"/><rect x="853" y="2198" width="8" height="2" class="lb"/>

<!-- ================= R1 ================= -->
<path class="o" d="M1312,174 L1333,174 L1333,205 L1353,205 L1353,174 L1376,174 L1376,260 L1418,260 L1418,215 L1488,215 L1488,315 L1418,315 L1418,278 L1377,278 L1377,353 L1311,353 L1311,278 L1271,278 L1271,319 L1191,319 L1191,295 L1153,295 L1153,210 Q1153,195 1168,195 L1208,195 Q1223,195 1223,210 L1223,229 L1268,229 L1268,260 L1312,260 Z"/>
<g class="l">
<line x1="1153" y1="222" x2="1223" y2="222"/><line x1="1176" y1="222" x2="1176" y2="268"/><line x1="1201" y1="222" x2="1201" y2="250"/>
<line x1="1153" y1="250" x2="1176" y2="250"/><line x1="1201" y1="250" x2="1245" y2="250"/><line x1="1245" y1="250" x2="1245" y2="260"/>
<line x1="1191" y1="268" x2="1191" y2="319"/><line x1="1191" y1="268" x2="1223" y2="268"/><line x1="1223" y1="268" x2="1223" y2="317"/>
<line x1="1245" y1="278" x2="1245" y2="317"/><line x1="1245" y1="296" x2="1271" y2="296"/>
<line x1="1452" y1="215" x2="1452" y2="252"/><line x1="1453" y1="263" x2="1488" y2="263"/><line x1="1453" y1="258" x2="1453" y2="280"/>
<line x1="1438" y1="292" x2="1468" y2="292"/><line x1="1453" y1="292" x2="1453" y2="315"/>
<rect x="1326" y="282" width="37" height="34"/>
</g>
<rect x="1327" y="296" width="35" height="19" fill="url(#st)"/>
<rect x="1312" y="340" width="64" height="12" fill="url(#sth)"/>
<g class="x"><rect x="1333" y="213" width="20" height="19"/><line x1="1333" y1="213" x2="1353" y2="232"/><line x1="1353" y1="213" x2="1333" y2="232"/>
<rect x="1247" y="297" width="21" height="20"/><line x1="1247" y1="297" x2="1268" y2="317"/><line x1="1268" y1="297" x2="1247" y2="317"/>
<rect x="1436" y="233" width="15" height="15"/><line x1="1436" y1="233" x2="1451" y2="248"/><line x1="1451" y1="233" x2="1436" y2="248"/>
<rect x="1453" y="233" width="15" height="15"/><line x1="1453" y1="233" x2="1468" y2="248"/><line x1="1468" y1="233" x2="1453" y2="248"/></g>
<g fill="none" stroke="#9ba0c8" stroke-width="1.2" stroke-dasharray="1.5 1"><polyline points="1421,219 1485,219 1485,310 1421,310"/><line x1="1438" y1="265" x2="1438" y2="285"/></g>
<g class="t"><line x1="1271" y1="260" x2="1271" y2="278" stroke-dasharray="2 2"/><line x1="1311" y1="260" x2="1311" y2="278" stroke-dasharray="2 2"/><line x1="1377" y1="260" x2="1377" y2="278" stroke-dasharray="2 2"/><line x1="1418" y1="260" x2="1418" y2="278" stroke-dasharray="2 2"/></g>
<g class="lb"><rect x="1184" y="210" width="8" height="2"/><rect x="1160" y="237" width="8" height="1.5"/><rect x="1205" y="237" width="8" height="1.5"/><rect x="1250" y="245" width="8" height="1.5"/><rect x="1165" y="282" width="8" height="1.5"/><rect x="1203" y="295" width="8" height="1.5"/><rect x="1432" y="263" width="8" height="1.5"/><rect x="1451" y="322" width="8" height="2"/></g>
<rect class="o" x="1315" y="372" width="16" height="88"/><rect class="o" x="1364" y="372" width="16" height="88"/>
<g class="x"><line x1="1317" y1="374" x2="1329" y2="412"/><line x1="1329" y1="374" x2="1317" y2="412"/><line x1="1315" y1="414" x2="1331" y2="414"/>
<line x1="1366" y1="374" x2="1378" y2="412"/><line x1="1378" y1="374" x2="1366" y2="412"/><line x1="1364" y1="414" x2="1380" y2="414"/></g>
<rect x="1319" y="465" width="8" height="2" class="lb"/><rect x="1368" y="465" width="8" height="2" class="lb"/>

<!-- ================= R2 ================= -->
<polygon class="o" points="1314,675 1337,675 1337,700 1358,700 1358,675 1380,675 1380,737 1391,737 1391,790 1381,795 1381,820 1314,820 1314,795 1303,790 1303,737 1314,737"/>
<g class="l"><rect x="1337" y="714" width="21" height="16"/><rect x="1327" y="760" width="40" height="33"/><line x1="1316" y1="745" x2="1378" y2="745" stroke="#8589c2"/></g>
<rect x="1328" y="775" width="38" height="17" fill="url(#st)"/>
<g class="x"><line x1="1337" y1="714" x2="1358" y2="730"/><line x1="1358" y1="714" x2="1337" y2="730"/></g>
<path class="o" d="M1196,742 Q1196,730 1208,730 L1272,730 L1272,819 L1196,819 Z"/>
<g class="l"><line x1="1240" y1="730" x2="1240" y2="746"/><line x1="1213" y1="746" x2="1213" y2="818"/><line x1="1213" y1="746" x2="1228" y2="746"/><polyline points="1240,763 1248,763 1248,785 1232,785"/><line x1="1250" y1="790" x2="1272" y2="790"/></g>
<g class="x"><rect x="1252" y="796" width="18" height="20"/><line x1="1252" y1="796" x2="1270" y2="816"/><line x1="1270" y1="796" x2="1252" y2="816"/></g>
<polygon class="o" points="1424,717 1486,717 1486,749 1512,749 1512,813 1446,813 1446,797 1424,797"/>
<g class="l"><line x1="1455" y1="717" x2="1455" y2="733"/><line x1="1424" y1="750" x2="1486" y2="750"/><line x1="1442" y1="764" x2="1470" y2="764"/><line x1="1446" y1="780" x2="1486" y2="780"/><line x1="1486" y1="750" x2="1486" y2="813"/></g>
<g class="x"><rect x="1439" y="733" width="15" height="15"/><line x1="1439" y1="733" x2="1454" y2="748"/><line x1="1454" y1="733" x2="1439" y2="748"/><rect x="1456" y="733" width="15" height="15"/><line x1="1456" y1="733" x2="1471" y2="748"/><line x1="1471" y1="733" x2="1456" y2="748"/></g>
<g class="lb"><rect x="1230" y="825" width="8" height="2"/><rect x="1342" y="826" width="8" height="2"/><rect x="1463" y="819" width="8" height="2"/><rect x="1232" y="748" width="7" height="1.5"/><rect x="1458" y="727" width="7" height="1.5"/><rect x="1492" y="783" width="7" height="1.5"/></g>
<rect class="o" x="1314" y="872" width="17" height="40"/><rect class="o" x="1363" y="872" width="17" height="40"/>
<g class="x"><line x1="1316" y1="874" x2="1329" y2="910"/><line x1="1329" y1="874" x2="1316" y2="910"/><line x1="1365" y1="874" x2="1378" y2="910"/><line x1="1378" y1="874" x2="1365" y2="910"/></g>
<rect x="1318" y="917" width="8" height="2" class="lb"/><rect x="1367" y="917" width="8" height="2" class="lb"/>

<!-- ================= R3 ================= -->
<polygon class="o" points="1314,1131 1337,1131 1337,1164 1358,1164 1358,1131 1380,1131 1380,1194 1391,1194 1391,1336 1381,1336 1381,1368 1314,1368 1314,1336 1303,1336 1303,1194 1314,1194"/>
<g class="l"><rect x="1337" y="1170" width="21" height="17"/><rect x="1330" y="1215" width="36" height="30"/><line x1="1303" y1="1231" x2="1391" y2="1231" stroke-dasharray="3 2"/><line x1="1326" y1="1285" x2="1366" y2="1285"/><line x1="1346" y1="1285" x2="1346" y2="1318"/></g>
<rect x="1331" y="1228" width="34" height="16" fill="url(#st)"/>
<g class="x"><line x1="1337" y1="1170" x2="1358" y2="1187"/><line x1="1358" y1="1170" x2="1337" y2="1187"/>
<rect x="1316" y="1330" width="13" height="34"/><line x1="1316" y1="1330" x2="1329" y2="1364"/><line x1="1329" y1="1330" x2="1316" y2="1364"/>
<rect x="1365" y="1330" width="13" height="34"/><line x1="1365" y1="1330" x2="1378" y2="1364"/><line x1="1378" y1="1330" x2="1365" y2="1364"/></g>
<path class="o" d="M1196,1197 Q1196,1185 1208,1185 L1272,1185 L1272,1274 L1196,1274 Z"/>
<g class="l"><line x1="1225" y1="1210" x2="1265" y2="1210"/><line x1="1225" y1="1220" x2="1265" y2="1220"/><line x1="1225" y1="1230" x2="1265" y2="1230"/><line x1="1214" y1="1250" x2="1214" y2="1274"/><line x1="1222" y1="1250" x2="1222" y2="1274"/></g>
<g class="x"><rect x="1250" y="1250" width="19" height="22"/><line x1="1250" y1="1250" x2="1269" y2="1272"/><line x1="1269" y1="1250" x2="1250" y2="1272"/></g>
<polygon class="o" points="1424,1171 1486,1171 1486,1204 1512,1204 1512,1268 1446,1268 1446,1252 1424,1252"/>
<g class="l"><line x1="1455" y1="1171" x2="1455" y2="1186"/><line x1="1424" y1="1232" x2="1486" y2="1232"/><line x1="1442" y1="1218" x2="1470" y2="1218"/><line x1="1486" y1="1204" x2="1486" y2="1268"/></g>
<g class="x"><rect x="1439" y="1187" width="15" height="15"/><line x1="1439" y1="1187" x2="1454" y2="1202"/><line x1="1454" y1="1187" x2="1439" y2="1202"/><rect x="1456" y="1187" width="15" height="15"/><line x1="1456" y1="1187" x2="1471" y2="1202"/><line x1="1471" y1="1187" x2="1456" y2="1202"/></g>
<g class="lb"><rect x="1230" y="1280" width="8" height="2"/><rect x="1343" y="1374" width="8" height="2"/><rect x="1463" y="1275" width="8" height="2"/><rect x="1205" y="1217" width="7" height="1.5"/><rect x="1340" y="1263" width="7" height="1.5"/></g>

<!-- ================= R4 ================= -->
<rect x="1301" y="1683" width="90" height="147" fill="none" stroke="#bdbdbd" stroke-width="1"/>
<polygon class="o" points="1312,1617 1338,1617 1338,1657 1354,1657 1354,1617 1380,1617 1380,1744 1312,1744"/>
<g class="x"><rect x="1336" y="1660" width="20" height="18"/><line x1="1336" y1="1660" x2="1356" y2="1678"/><line x1="1356" y1="1660" x2="1336" y2="1678"/></g>
<line x1="1312" y1="1681" x2="1380" y2="1681" class="l"/>
<rect class="o" x="1312" y="1776" width="68" height="175"/>
<g class="l"><line x1="1336" y1="1855" x2="1336" y2="1951"/><line x1="1356" y1="1855" x2="1356" y2="1951"/><line x1="1312" y1="1855" x2="1380" y2="1855"/></g>
<g class="x"><rect x="1314" y="1820" width="16" height="34"/><line x1="1314" y1="1820" x2="1330" y2="1854"/><line x1="1330" y1="1820" x2="1314" y2="1854"/>
<rect x="1362" y="1820" width="16" height="34"/><line x1="1362" y1="1820" x2="1378" y2="1854"/><line x1="1378" y1="1820" x2="1362" y2="1854"/></g>
<g class="t"><rect x="1320" y="1864" width="20" height="10"/><rect x="1352" y="1864" width="20" height="10"/><rect x="1320" y="1912" width="20" height="10"/><rect x="1352" y="1912" width="20" height="10"/></g>
<rect class="o" x="1224" y="1672" width="25" height="54"/><rect class="o" x="1256" y="1672" width="16" height="72"/>
<g class="x"><line x1="1226" y1="1674" x2="1247" y2="1724"/><line x1="1247" y1="1674" x2="1226" y2="1724"/><line x1="1258" y1="1674" x2="1270" y2="1742"/><line x1="1270" y1="1674" x2="1258" y2="1742"/></g>
<polygon class="o" points="1421,1659 1487,1659 1487,1692 1512,1692 1512,1759 1443,1759 1443,1744 1421,1744"/>
<g class="l"><line x1="1421" y1="1744" x2="1487" y2="1744"/><line x1="1440" y1="1709" x2="1470" y2="1709"/><line x1="1445" y1="1709" x2="1445" y2="1730"/><line x1="1487" y1="1692" x2="1487" y2="1759"/></g>
<g class="x"><rect x="1436" y="1676" width="15" height="15"/><line x1="1436" y1="1676" x2="1451" y2="1691"/><line x1="1451" y1="1676" x2="1436" y2="1691"/><rect x="1452" y="1676" width="15" height="15"/><line x1="1452" y1="1676" x2="1467" y2="1691"/><line x1="1467" y1="1676" x2="1452" y2="1691"/></g>
<g class="lb"><rect x="1343" y="1752" width="8" height="2"/><rect x="1343" y="1958" width="8" height="2"/><rect x="1256" y="1749" width="8" height="2"/><rect x="1463" y="1764" width="8" height="2"/><rect x="1320" y="1643" width="7" height="1.5"/><rect x="1362" y="1643" width="7" height="1.5"/><rect x="1330" y="1705" width="12" height="1.5"/><rect x="1320" y="1795" width="40" height="1.5"/></g>

<!-- ================= R5 ================= -->
<rect x="1443" y="2134" width="69" height="68" fill="none" stroke="#bdbdbd" stroke-width="1"/>
<rect class="o" x="1421" y="2103" width="66" height="86"/>
<g class="l"><line x1="1428" y1="2103" x2="1428" y2="2189"/><line x1="1454" y1="2103" x2="1454" y2="2189"/><line x1="1454" y1="2125" x2="1487" y2="2125"/><line x1="1465" y1="2103" x2="1465" y2="2125"/><line x1="1454" y1="2140" x2="1487" y2="2140"/></g>
<g class="t"><line x1="1460" y1="2145" x2="1460" y2="2185"/><line x1="1480" y1="2145" x2="1480" y2="2185"/><line x1="1454" y1="2160" x2="1487" y2="2160"/><line x1="1454" y1="2172" x2="1487" y2="2172"/></g>
<rect x="1433" y="2145" width="12" height="1.5" class="lb"/>
</svg>

<div class="fa" style="left:13px;top:131px;width:150px;font-size:11px;transform:scaleX(0.78);">استفاده از عضو ثانویه ارتباطی</div>
<div class="fa" style="left:7px;top:509px;width:100px;font-size:11px;transform:scaleX(0.85);">ایجاد فرم نهایی</div>
<div class="fa" style="left:15px;top:664px;width:200px;font-size:14px;transform:scaleX(0.85);">ایجاد فرم های تلفیقی : میدجرنی</div>
</div>
</body></html>
